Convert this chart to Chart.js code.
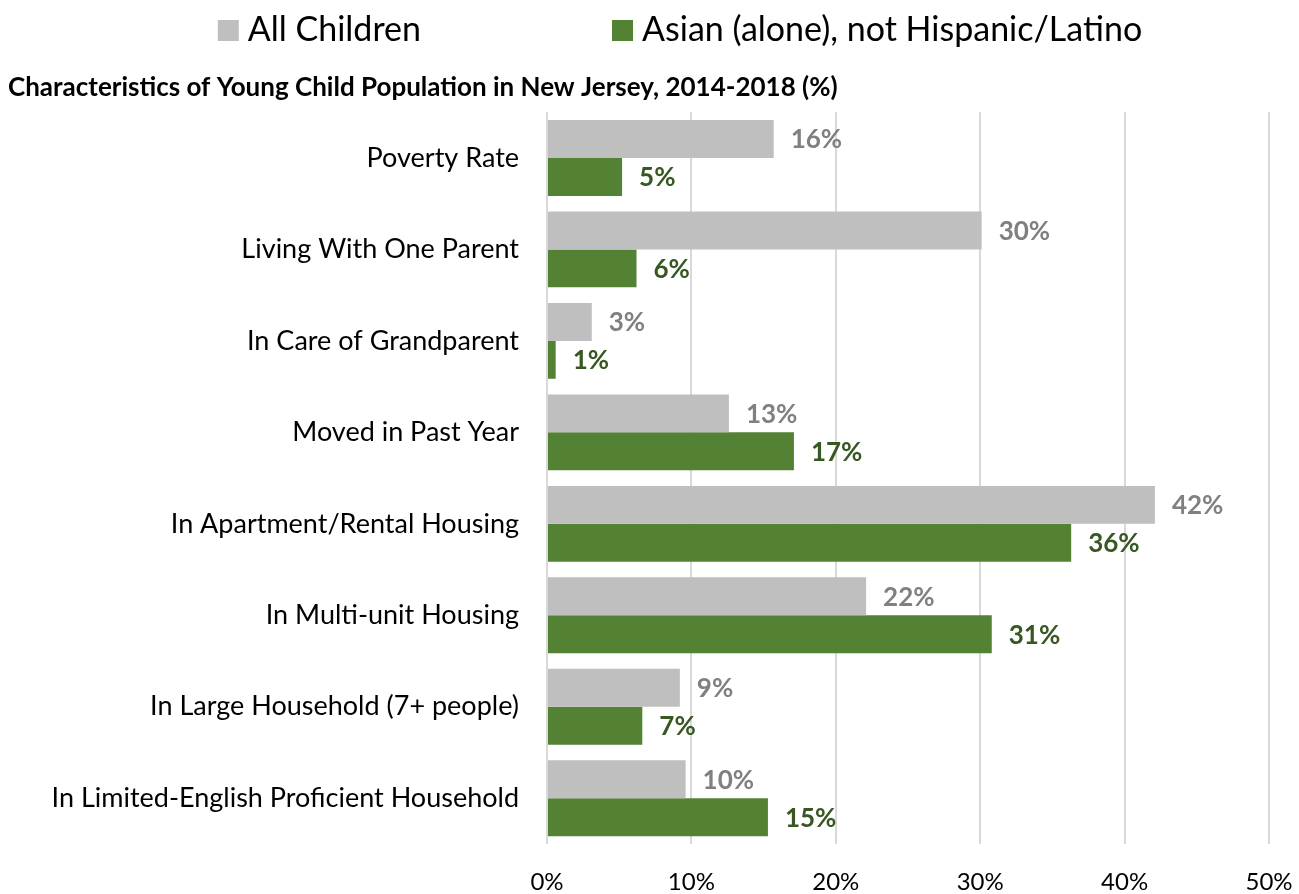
<!DOCTYPE html>
<html><head><meta charset="utf-8">
<script src="https://cdn.jsdelivr.net/npm/chart.js@4.4.0/dist/chart.umd.min.js"></script>
<style>html,body{margin:0;padding:0;background:#fff}#wrap{width:1299px;height:894px;position:relative}</style>
</head><body><div id="wrap"><canvas id="c" width="1299" height="894"></canvas></div>
<script>
const categories = ["Poverty Rate","Living With One Parent","In Care of Grandparent","Moved in Past Year","In Apartment/Rental Housing","In Multi-unit Housing","In Large Household (7+ people)","In Limited-English Proficient Household"];
const seriesNames = ["All Children","Asian (alone), not Hispanic/Latino"];
const allChildren = [15.7, 30.1, 3.1, 12.6, 42.1, 22.1, 9.2, 9.6];
const asianChildren = [5.2, 6.2, 0.6, 17.1, 36.3, 30.8, 6.6, 15.3];
const xTicks = [0, 10, 20, 30, 40, 50];
const chartTitle = "Characteristics of Young Child Population in New Jersey, 2014-2018 (%)";

const FONT = "Lato";
Chart.defaults.font.family = FONT;

const barLabels = {
  id: 'barLabels',
  afterDatasetsDraw(chart) {
    const ctx = chart.ctx;
    ctx.save();
    ctx.font = "bold 26px " + FONT;
    ctx.textBaseline = 'middle';
    ctx.textAlign = 'left';
    chart.data.datasets.forEach((ds, i) => {
      const meta = chart.getDatasetMeta(i);
      ctx.fillStyle = ds.labelColor;
      meta.data.forEach((bar, j) => {
        ctx.fillText(Math.round(ds.data[j]) + '%', bar.x + 17, bar.y + 1);
      });
    });
    ctx.restore();
  }
};

const topLegend = {
  id: 'topLegend',
  afterDraw(chart) {
    const ctx = chart.ctx;
    ctx.save();
    ctx.font = "34px " + FONT;
    ctx.textBaseline = 'middle';
    ctx.textAlign = 'left';
    const box = 21, gapText = 9, gapItem = 191;
    const items = chart.data.datasets.map(ds => ({text: ds.label, color: ds.backgroundColor, w: ctx.measureText(ds.label).width}));
    let total = 0;
    items.forEach((it, i) => { total += box + gapText + it.w + (i ? gapItem : 0); });
    let x = 680 - total / 2;
    items.forEach(it => {
      ctx.fillStyle = it.color;
      ctx.fillRect(x, 20, box, box);
      ctx.fillStyle = '#000';
      ctx.fillText(it.text, x + box + gapText, 30);
      x += box + gapText + it.w + gapItem;
    });
    ctx.restore();
  }
};

new Chart(document.getElementById('c'), {
  type: 'bar',
  data: {
    labels: categories,
    datasets: [
      {label: seriesNames[0], data: allChildren, backgroundColor: '#BFBFBF', labelColor: '#808080', categoryPercentage: 0.83, barPercentage: 1},
      {label: seriesNames[1], data: asianChildren, backgroundColor: '#548235', labelColor: '#385723', categoryPercentage: 0.83, barPercentage: 1}
    ]
  },
  options: {
    indexAxis: 'y',
    responsive: false,
    animation: false,
    layout: {padding: {left: 8, right: 30, top: 57, bottom: 0}},
    plugins: {
      legend: {display: false},
      tooltip: {enabled: false},
      title: {
        display: true, text: chartTitle, align: 'start', color: '#000',
        font: {size: 26, weight: 'bold'}, padding: {top: 15, bottom: 9}
      }
    },
    scales: {
      x: {
        min: 0, max: 50,
        afterBuildTicks(s) { s.ticks = xTicks.map(v => ({value: v})); },
        afterFit(s) { s.paddingRight = 0; s.paddingLeft = 0; s.height = 50; },
        ticks: {callback: v => v + '%', color: '#000', font: {size: 24, lineHeight: 1}, padding: 26, maxRotation: 0},
        grid: {color: '#D9D9D9', lineWidth: 2, drawTicks: false},
        border: {display: false}
      },
      y: {
        afterFit(s) { s.width = 539; },
        ticks: {color: '#000', font: {size: 27}, padding: 28},
        grid: {display: false, drawTicks: false},
        border: {display: false}
      }
    }
  },
  plugins: [barLabels, topLegend]
});
</script>
</body></html>
